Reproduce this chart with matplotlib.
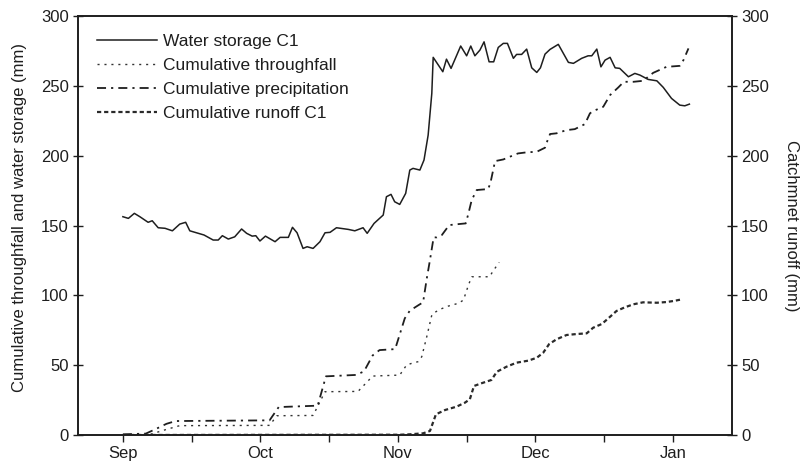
import matplotlib
matplotlib.use("Agg")
import matplotlib.pyplot as plt

plt.rcParams["font.family"] = ["Liberation Sans", "DejaVu Sans"]
plt.rcParams["font.size"] = 12

# days counted from 1 September
storage_day = [0, 1.2, 2.5, 3.7, 5.5, 6.4, 7.7, 9.2, 10.8, 12.4, 13.7, 14.6, 17.7, 19.7,
               20.8, 21.7, 23.0, 24.4, 25.9, 27.0, 28.2, 29.0, 29.9, 31.1, 33.2, 34.3,
               36.1, 37.0, 38.0, 39.3, 40.2, 41.5, 43.0, 44.1, 45.2, 46.6, 49.2, 50.6,
               52.4, 53.3, 54.8, 56.8, 57.5, 58.5, 59.3, 60.4, 61.7, 62.6, 63.3, 64.8,
               65.7, 66.6, 67.4, 67.7, 69.8, 70.6, 71.6, 73.7, 75.0, 75.9, 76.8, 77.9,
               78.8, 79.9, 80.9, 81.9, 83.0, 83.9, 85.2, 85.9, 87.0, 88.1, 89.2, 90.3,
               91.1, 92.1, 93.2, 95.0, 97.2, 98.3, 100.1, 101.5, 102.3, 103.4, 104.3,
               105.2, 106.3, 107.4, 108.4, 110.3, 111.7, 112.8, 114.6, 116.5, 117.9,
               119.7, 121.5, 122.6, 123.6]
storage_mm = [156.3, 155.1, 158.7, 156.3, 152.3, 153.4, 148.4, 148.0, 146.2, 151.0, 152.3,
              146.2, 143.2, 139.6, 139.6, 142.7, 140.3, 141.9, 147.5, 144.4, 142.4, 142.7,
              138.9, 142.4, 138.4, 141.5, 141.5, 148.7, 144.8, 133.6, 134.8, 133.6, 138.4,
              144.8, 145.1, 148.4, 147.2, 146.2, 148.4, 144.4, 151.5, 157.5, 170.6, 172.3,
              167.0, 165.1, 173.0, 189.7, 190.9, 189.7, 196.9, 214.7, 244.6, 270.4, 260.1,
              269.1, 262.5, 278.5, 271.5, 278.5, 271.5, 275.6, 281.5, 267.2, 267.2, 277.5,
              280.4, 280.4, 269.7, 272.5, 272.5, 276.3, 262.9, 259.6, 262.9, 272.7, 276.1,
              279.7, 266.8, 266.1, 269.7, 271.5, 271.5, 276.3, 263.6, 268.4, 270.4, 262.9,
              262.5, 256.5, 258.9, 257.7, 254.6, 253.6, 248.9, 241.0, 236.2, 235.7, 236.9]

through_day = [0, 6, 7.5, 9.5, 12.4, 32, 33.6, 41.5, 44.1, 51.3, 54.5, 60.4, 61.9, 63,
               64.4, 65.2, 66.3, 67.4, 67.7, 69.2, 71, 73.2, 74.3, 75.4, 76.1, 80, 80.8, 82.1]
through_mm = [0, 0.5, 2, 4, 6.7, 6.9, 13.8, 14, 31, 31.2, 42.2, 42.9, 50.1, 51.3, 52.5,
              56, 70.4, 85.9, 87.1, 90, 92.3, 94.3, 96.6, 107.4, 113.3, 113.3, 117.6, 123.6]

precip_day = [0, 5, 7, 9.5, 11.5, 32, 34, 42.5, 44.3, 50.8, 52.6, 54.5, 56, 59.4, 61.5,
              62.6, 64.5, 65.5, 66.3, 67, 67.8, 68.5, 69.6, 71.2, 73.2, 74.8, 75.4, 76.1,
              77.2, 79.7, 80.2, 81.2, 83, 84.4, 86.2, 88.1, 90.3, 92.1, 92.4, 93.2, 94.6,
              96.8, 98.6, 100.8, 101.9, 102.6, 104.8, 106.3, 108.1, 109.3, 111.4, 113.5,
              115.7, 118.6, 121.5, 122.3, 123.4]
precip_mm = [0.5, 1, 4, 8, 10, 10.5, 20, 21, 42, 43, 45.5, 57, 60.8, 61.5, 83.5, 89, 93,
             95, 112, 125.3, 141.5, 141.5, 143.2, 150.3, 151, 151.5, 158.7, 168.2, 175.4,
             176.1, 180.6, 196.1, 197.3, 199.2, 201.6, 202.4, 202.8, 205.7, 208.8, 215.5,
             216, 218.3, 219, 222.6, 230.3, 231.9, 235, 243.4, 248.9, 252.9, 252.9, 253.6,
             259.3, 263.6, 264.3, 268.4, 276.8]

runoff_day = [0, 60.4, 62.6, 65.5, 67, 68.3, 70.3, 72.8, 74.6, 75.7, 76.6, 78.2, 80.4,
              81.6, 83.7, 85.9, 88.4, 90.3, 91.7, 93, 94.6, 96.8, 99, 101.2, 102.6, 104.5,
              105.9, 107.7, 109.5, 111.4, 113.5, 116.5, 118.6, 120.4, 121.9]
runoff_mm = [0, 0.2, 0.5, 1.2, 2.9, 14.8, 17.9, 20.3, 23.1, 25.6, 35.1, 37, 39.4, 45.3,
             48.9, 51.8, 53.2, 55.3, 58.9, 65.1, 68.5, 71.6, 72.3, 72.8, 76.8, 79.5, 83.5,
             88.8, 91.4, 93.6, 95, 94.7, 95.2, 96.1, 97.1]

month_days = [0, 30, 60, 90, 120]
month_labels = ["Sep", "Oct", "Nov", "Dec", "Jan"]

ink = "#1e1e1e"

fig = plt.figure(figsize=(8.03, 4.68), dpi=100)
ax = fig.add_axes([0.0971, 0.0705, 0.8145, 0.8953])
ax2 = ax.twinx()

ax.plot(storage_day, storage_mm, color=ink, lw=1.1, label="Water storage C1")
ax.plot(through_day, through_mm, color="#333333", lw=1.0, linestyle=(0, (1.5, 3.5)),
        label="Cumulative throughfall")
ax.plot(precip_day, precip_mm, color=ink, lw=1.3, linestyle=(0, (5, 2.8, 1.2, 2.8)),
        label="Cumulative precipitation")
runoff_line, = ax2.plot(runoff_day, runoff_mm, color="#2a2a2a", lw=1.6,
                        linestyle=(0, (1.9, 1.3)), label="Cumulative runoff C1")

ax.set_xlim(-9.8, 132.9)
ax.set_ylim(0, 300)
ax2.set_ylim(0, 300)
ax.set_yticks(range(0, 301, 50))
ax2.set_yticks(range(0, 301, 50))
ax.set_xticks(month_days)
ax.set_xticklabels(month_labels)
ax.set_xticks([15, 45, 75, 105], minor=True)

ax.tick_params(axis="y", direction="inout", length=7, width=1, colors=ink, pad=3)
ax2.tick_params(axis="y", direction="inout", length=7, width=1, colors=ink, pad=3)
ax.tick_params(axis="x", which="both", direction="out", length=5, width=1, colors=ink, pad=3)

for a in (ax, ax2):
    for s in a.spines.values():
        s.set_color(ink)
        s.set_linewidth(1.2)

ax.set_ylabel("Cumulative throughfall and water storage (mm)", color=ink)
ax.yaxis.set_label_coords(-0.078, 0.52)
ax2.set_ylabel("Catchmnet runoff (mm)", color=ink, rotation=270, va="bottom", labelpad=11)

handles = ax.get_lines() + [runoff_line]
leg = ax.legend(handles=handles, labels=[h.get_label() for h in handles],
                loc="upper left", bbox_to_anchor=(0.029, 0.957), frameon=False,
                fontsize=12.5, handlelength=3.45, handletextpad=0.35,
                labelspacing=0.5, borderpad=0, borderaxespad=0)
for t in leg.get_texts():
    t.set_color(ink)

fig.savefig("out.png", dpi=100)
